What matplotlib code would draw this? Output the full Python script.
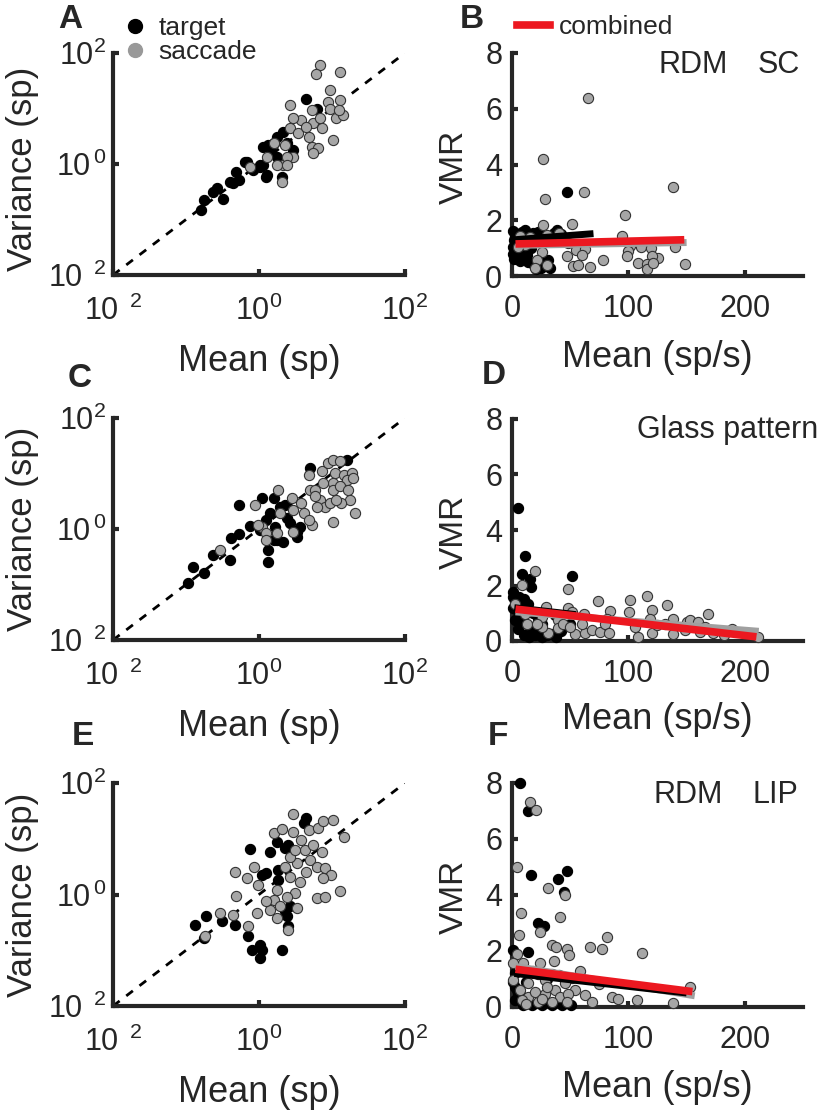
import numpy as np
import matplotlib
matplotlib.use('Agg')
import matplotlib.pyplot as plt
from matplotlib.lines import Line2D

plt.rcParams['font.family'] = ['Liberation Sans', 'DejaVu Sans']
plt.rcParams['mathtext.fontset'] = 'custom'
plt.rcParams['mathtext.rm'] = 'Liberation Sans'
plt.rcParams['mathtext.it'] = 'Liberation Sans'
plt.rcParams['mathtext.default'] = 'regular'

INK = '#262626'
GRAY = '#a6a6a6'
RED = '#ec1820'

# ---- left column: log10(mean), log10(variance) pairs ----
a_target = [(-0.79, -0.83), (-0.75, -0.65), (-0.63, -0.50), (-0.50, -0.63), (-0.40, -0.32),
            (-0.31, -0.14), (-0.28, -0.29), (-0.19, 0.03), (0.01, -0.05), (0.10, -0.23),
            (0.06, 0.31), (0.17, 0.22), (0.24, 0.49), (0.33, 0.58), (0.38, 0.37),
            (0.31, -0.23), (0.65, 1.18), (0.79, 1.00), (0.24, 0.13), (-0.08, -0.11),
            (-0.35, -0.35), (0.20, 0.37), (0.12, 0.34), (0.01, -0.02), (-0.17, 0.04),
            (-0.58, -0.44), (0.11, -0.20), (0.47, 0.25), (0.05, -0.02)]
a_saccade = [(0.83, 1.78), (1.11, 1.66), (0.78, 1.63), (0.97, 1.33), (1.11, 1.15), (0.95, 1.12),
             (0.42, 1.06), (0.72, 0.97), (0.97, 1.00), (1.06, 0.82), (1.15, 0.88), (0.58, 0.79),
             (0.74, 0.73), (0.86, 0.64), (1.02, 0.43), (0.72, 0.31), (0.81, 0.28), (0.47, 0.13),
             (0.68, 0.49), (0.42, 0.64), (0.47, 0.82), (0.20, 0.37), (0.36, 0.34), (0.11, 0.13),
             (0.33, -0.02), (0.38, 0.13), (0.31, -0.32), (-0.12, -0.05), (0.74, 0.19), (0.84, 0.82),
             (1.09, 0.97), (0.54, 0.55), (0.65, 0.67), (0.24, -0.02), (0.38, -0.02)]

c_target = [(-0.97, -0.98), (-0.90, -0.68), (-0.76, -0.80), (-0.63, -0.47), (-0.40, -0.56),
            (-0.38, -0.17), (-0.27, -0.09), (-0.28, 0.43), (-0.12, 0.06), (0.04, 0.55),
            (0.20, 0.55), (0.13, -0.38), (0.13, -0.59), (0.20, -0.20), (0.24, -0.20),
            (0.36, 0.43), (0.38, 0.19), (0.42, 0.10), (0.52, -0.05), (0.56, 0.04),
            (0.70, 1.10), (1.20, 1.25), (0.01, -0.02), (0.15, 0.28), (0.10, 0.16),
            (0.22, 0.04), (0.33, -0.23), (0.52, -0.14), (0.29, 0.40)]
c_saccade = [(-0.53, -0.38), (-0.05, 0.43), (0.04, 0.04), (0.10, -0.08), (0.26, 0.71), (0.29, 0.28),
             (0.45, 0.55), (0.47, 0.34), (0.58, 0.47), (0.70, 0.71), (0.68, 0.98), (0.86, 1.04),
             (0.95, 1.19), (1.02, 1.25), (1.11, 1.22), (1.04, 1.01), (1.16, 0.98), (1.27, 1.01),
             (1.20, 0.89), (1.02, 0.83), (0.88, 0.83), (0.77, 0.71), (0.84, 0.53), (1.02, 0.71),
             (1.11, 0.77), (1.22, 0.71), (1.25, 0.53), (1.31, 0.28), (1.02, 0.13), (0.72, 0.07),
             (0.90, 0.40), (0.79, 0.40), (0.97, 0.47), (1.13, 0.47), (0.47, -0.05), (0.24, -0.08),
             (0.10, -0.20), (-0.01, 0.07), (0.61, 0.28), (0.77, 0.59), (1.06, 0.53), (0.68, 0.16),
             (1.29, 0.92)]

e_target = [(-0.88, -0.54), (-0.72, -0.39), (-0.76, -0.78), (-0.51, -0.48), (-0.33, -0.54),
            (-0.12, 0.81), (-0.15, -0.74), (-0.09, -0.99), (0.01, -0.90), (0.01, -1.14),
            (0.04, -0.99), (0.31, -0.99), (0.15, 0.77), (0.24, 0.95), (0.36, 0.83),
            (0.10, 0.38), (0.26, 0.44), (0.40, 0.89), (0.65, 1.37), (0.61, 1.28),
            (0.36, -0.30), (0.40, -0.57), (0.42, -0.21), (0.04, 0.35), (0.26, 0.26), (0.38, -0.39)]
e_saccade = [(-0.74, -0.75), (-0.53, -0.33), (-0.35, -0.36), (-0.31, -0.02), (-0.33, 0.41),
             (-0.17, 0.29), (-0.07, 0.49), (-0.02, 0.17), (-0.03, -0.33), (-0.15, -0.57),
             (0.20, 1.10), (0.31, 1.18), (0.47, 1.44), (0.47, 1.13), (0.58, 0.98), (0.68, 1.16),
             (0.81, 1.19), (0.88, 1.31), (1.02, 1.33), (1.16, 1.03), (0.63, 0.80), (0.74, 0.89),
             (0.86, 0.77), (0.70, 0.62), (0.79, 0.50), (0.90, 0.47), (0.99, 0.35), (0.88, 0.29),
             (1.11, 0.07), (0.79, -0.07), (0.90, -0.04), (0.52, -0.24), (0.49, 0.02), (0.38, -0.04),
             (0.24, 0.08), (0.20, -0.09), (0.15, -0.27), (0.29, -0.21), (0.24, -0.42), (0.40, -0.63),
             (0.42, 0.32), (0.52, 0.56), (0.56, 0.23), (0.65, 0.41), (0.36, 0.50), (0.42, 0.68),
             (0.49, 0.80), (0.10, -0.12)]

# ---- right column: mean rate (sp/s), VMR pairs ----
b_target = [(47, 3.02), (2.6, 1.41), (8.3, 1.59), (0.5, 1.05), (4, 0.70), (14, 0.52), (19.8, 0.34),
            (31.2, 0.58), (38.4, 1.65), (22.6, 1.59), (11.2, 1.65), (1.5, 1.30), (6.9, 0.81),
            (3, 0.90), (10, 1.20), (16, 1.00), (25, 1.40), (1, 1.60), (5, 1.50), (8, 1.30),
            (12, 1.45), (18, 1.55), (6, 1.00), (9, 0.90), (13, 0.75), (17, 0.45), (21, 0.25),
            (25, 0.30), (28, 0.50), (33, 0.30), (36, 1.55), (42, 1.50), (0.5, 0.80), (2, 0.60),
            (7, 0.55)]
b_saccade = [(65.6, 6.38), (26.9, 4.20), (28.4, 2.77), (61.9, 3.00), (138.6, 3.20), (97.1, 2.20),
             (26.9, 1.83), (51.3, 1.87), (15.5, 1.41), (29.8, 1.47), (40.4, 1.53), (94.2, 1.45),
             (47.8, 1.17), (54.7, 0.93), (62.7, 0.96), (59.9, 0.75), (47, 0.70), (52.7, 0.36),
             (57, 0.40), (67, 0.31), (78.5, 0.57), (101.4, 1.08), (100, 0.91), (98.5, 0.70),
             (110.8, 1.03), (119.4, 0.99), (125.2, 0.66), (120, 0.70), (108.5, 0.48), (115.7, 0.43),
             (115.7, 0.24), (121.4, 0.48), (140, 1.03), (148.6, 0.43), (25.5, 0.87), (21.2, 0.57),
             (19.8, 0.28), (29.8, 0.40), (11.2, 1.11), (6.9, 1.44), (5.5, 1.03)]

d_target = [(4.9, 4.78), (11.2, 3.07), (51.3, 2.34), (8.9, 2.43), (15.5, 2.25), (16.3, 1.95),
            (0.5, 1.59), (6.9, 1.41), (14, 1.35), (2.6, 0.75), (12.6, 0.27), (22.6, 0.33),
            (34.1, 0.27), (37, 0.93), (49.8, 0.63), (4, 1.11), (22.6, 0.81), (1, 1.75),
            (8, 0.60), (18, 0.50), (1, 1.20), (3, 1.45), (6, 1.60), (10, 1.50), (13, 1.20),
            (8, 0.90), (5, 0.45), (10, 0.20), (15, 0.15), (20, 0.20), (26, 0.15), (30, 0.20),
            (38, 0.15), (42, 0.35), (18, 1.00), (26, 0.60)]
d_saccade = [(19.8, 2.52), (8.9, 2.01), (48.4, 1.88), (2.6, 1.35), (28.9, 1.23), (48.4, 1.20),
             (51.3, 1.05), (11.2, 0.99), (25.5, 0.87), (39.8, 0.75), (62.2, 0.96), (74.2, 1.45),
             (84.2, 1.08), (81.3, 0.81), (101.4, 1.47), (100.5, 1.05), (115.7, 1.61), (120.6, 1.13),
             (132.9, 1.29), (138.6, 0.81), (118.6, 0.81), (105.7, 0.51), (108.5, 0.15), (120, 0.29),
             (124.3, 0.57), (131.5, 0.63), (138.6, 0.24), (150, 0.69), (153, 0.75), (148.6, 0.41),
             (159.5, 0.69), (165.8, 0.51), (168.1, 0.96), (161.5, 0.33), (173, 0.29), (182.4, 0.20),
             (188.7, 0.45), (211, 0.15), (13.2, 0.63), (31.2, 0.29), (39.2, 0.48), (44.1, 0.63),
             (54.1, 0.24), (62.7, 0.29), (68.5, 0.39), (75.6, 0.33), (79.9, 0.63), (83.3, 0.29),
             (59.9, 0.63), (49.8, 0.51), (25.5, 0.51), (21.2, 0.63)]

f_target = [(6.9, 8.0), (14, 6.99), (16.3, 4.72), (39.8, 4.56), (47, 4.84), (45, 4.12), (22.6, 3.01),
            (27.8, 2.89), (0.5, 2.03), (14, 1.97), (2.6, 0.72), (5.5, 0.48), (2.6, 0.24), (9.8, 0.06),
            (16.9, 0.06), (25.5, 0.06), (34.1, 0.06), (42.7, 0.06), (51, 0.06), (3, 1.20),
            (12, 0.90), (30, 1.00), (1, 0.90), (4, 0.60), (8, 0.40)]
f_saccade = [(15.5, 7.31), (20.6, 7.05), (4, 4.99), (30.7, 4.24), (45.5, 4.0), (41.3, 3.23),
             (7.7, 3.35), (24, 2.69), (6, 2.57), (81.3, 2.51), (67, 2.15), (77.6, 2.06),
             (111.4, 1.94), (34.1, 2.21), (37.5, 2.15), (47, 2.06), (49, 1.85), (4, 1.91),
             (9.8, 1.58), (24, 1.58), (36.4, 1.65), (1.2, 1.58), (58.4, 1.29), (22.6, 1.19),
             (34.1, 1.19), (40.4, 1.14), (51.3, 1.02), (74.8, 0.81), (1.2, 0.96), (14, 0.84),
             (28.4, 0.96), (45.5, 0.84), (54.1, 0.60), (62.7, 0.42), (68.5, 0.18), (85.6, 0.36),
             (91.4, 0.30), (107.1, 0.24), (138.6, 0.14), (152.9, 0.72), (14, 0.36), (19.8, 0.54),
             (28.4, 0.48), (37, 0.60), (41.3, 0.36), (48.4, 0.48), (8.3, 0.24), (22.6, 0.18),
             (34.1, 0.18), (47, 0.18), (6.9, 0.60), (18, 1.30), (30, 0.70), (12, 0.10), (26, 0.30)]

# regression lines: (x ends, y ends)
b_fits = {'saccade': ([5, 150], [1.10, 1.20]), 'target': ([2, 70], [1.30, 1.52]),
          'combined': ([3, 148], [1.15, 1.30])}
d_fits = {'saccade': ([3, 212], [1.05, 0.35]), 'target': ([2, 55], [1.20, 0.95]),
          'combined': ([3, 210], [1.15, 0.15])}
f_fits = {'saccade': ([3, 157], [1.45, 0.40]), 'target': ([2, 150], [1.20, 0.50]),
          'combined': ([3, 155], [1.35, 0.55])}

log_ticks = [1e-2, 1e0, 1e2]
log_xlabels = [r'$10^{\ \;2}$', r'$10^{0}$', r'$10^{2}$']
log_ylabels = [r'$10^{\ \;2}$', r'$10^{\,0}$', r'$10^{2}$']


def base_style(ax):
    for side in ['top', 'right']:
        ax.spines[side].set_visible(False)
    for side in ['left', 'bottom']:
        ax.spines[side].set_linewidth(3)
        ax.spines[side].set_color(INK)
    ax.tick_params(direction='in', length=4, width=3, color=INK, labelcolor=INK, labelsize=22)


def scatter_pairs(ax, pairs, color, log=False):
    x = np.array([p[0] for p in pairs])
    y = np.array([p[1] for p in pairs])
    if log:
        x, y = 10 ** x, 10 ** y
    edge = 'black' if color == 'black' else '#333333'
    ax.scatter(x, y, s=54, c=color, edgecolors=edge, linewidths=0.8, clip_on=False, zorder=3)


def log_panel(ax, target, saccade, ylab_y):
    base_style(ax)
    ax.set_xscale('log')
    ax.set_yscale('log')
    ax.set_xlim(1e-2, 1e2)
    ax.set_ylim(1e-2, 1e2)
    ax.plot([1e-2, 1e2], [1e-2, 1e2], ls=(0, (3, 3)), color='black', lw=2, zorder=2)
    scatter_pairs(ax, target, 'black', log=True)
    scatter_pairs(ax, saccade, GRAY, log=True)
    ax.set_xticks(log_ticks)
    ax.set_xticklabels(log_xlabels)
    ax.set_yticks(log_ticks)
    ax.set_yticklabels(log_ylabels)
    ax.minorticks_off()
    ax.tick_params(axis='x', pad=15)
    ax.tick_params(axis='y', pad=5)
    ax.set_xlabel('Mean (sp)', fontsize=26, color=INK)
    ax.set_ylabel('Variance (sp)', fontsize=25, color=INK)
    ax.xaxis.set_label_coords(0.5, -0.31)
    ax.yaxis.set_label_coords(-0.253, ylab_y)


def vmr_panel(ax, target, saccade, fits, xlab_y):
    base_style(ax)
    ax.set_xlim(0, 250)
    ax.set_ylim(0, 8)
    ax.set_xticks([0, 100, 200])
    ax.set_yticks([0, 2, 4, 6, 8])
    scatter_pairs(ax, target, 'black')
    scatter_pairs(ax, saccade, GRAY)
    ax.plot(*fits['saccade'], color='#a0a0a0', lw=5, solid_capstyle='butt', zorder=4)
    ax.plot(*fits['target'], color='black', lw=5, solid_capstyle='butt', zorder=4)
    ax.plot(*fits['combined'], color=RED, lw=5.5, solid_capstyle='butt', zorder=5)
    ax.tick_params(axis='x', pad=13)
    ax.tick_params(axis='y', pad=7)
    ax.set_xlabel('Mean (sp/s)', fontsize=26, color=INK)
    ax.set_ylabel('VMR', fontsize=24, color=INK)
    ax.xaxis.set_label_coords(0.5, xlab_y)
    ax.yaxis.set_label_coords(-0.144, 0.49)


W, H = 826, 1113
fig = plt.figure(figsize=(W / 100, H / 100), dpi=100)


def add_axes(l, t, r, b):
    return fig.add_axes([l / W, 1 - b / H, (r - l) / W, (b - t) / H])


axA = add_axes(113, 53, 405, 275)
axB = add_axes(512, 53, 803, 276)
axC = add_axes(113, 418, 405, 640)
axD = add_axes(512, 419, 803, 641)
axE = add_axes(113, 783, 405, 1006)
axF = add_axes(512, 783, 803, 1007)

log_panel(axA, a_target, a_saccade, 0.48)
log_panel(axC, c_target, c_saccade, 0.5)
log_panel(axE, e_target, e_saccade, 0.5)
vmr_panel(axB, b_target, b_saccade, b_fits, -0.285)
vmr_panel(axD, d_target, d_saccade, d_fits, -0.275)
vmr_panel(axF, f_target, f_saccade, f_fits, -0.283)

axB.text(0.502, 0.91, 'RDM', transform=axB.transAxes, fontsize=22, color=INK, va='baseline')
axB.text(0.845, 0.91, 'SC', transform=axB.transAxes, fontsize=22, color=INK, va='baseline')
axD.text(0.43, 0.914, 'Glass pattern', transform=axD.transAxes, fontsize=22, color=INK, va='baseline')
axF.text(0.485, 0.911, 'RDM', transform=axF.transAxes, fontsize=22, color=INK, va='baseline')
axF.text(0.828, 0.911, 'LIP', transform=axF.transAxes, fontsize=22, color=INK, va='baseline')

# legends
dots = [Line2D([], [], marker='o', ls='', color='black', ms=10),
        Line2D([], [], marker='o', ls='', color='#999999', ms=10)]
fig.legend(dots, ['target', 'saccade'], loc='center left', bbox_to_anchor=(124 / W, 1 - 40 / H),
           frameon=False, fontsize=19, handlelength=0.8, handletextpad=0.5, labelspacing=0.0,
           borderpad=0, borderaxespad=0, labelcolor=INK)
fig.legend([Line2D([], [], color=RED, lw=5.5)], ['combined'], loc='center left',
           bbox_to_anchor=(517 / W, 1 - 27 / H), frameon=False, fontsize=19,
           handlelength=1.25, handletextpad=0.34, borderpad=0, borderaxespad=0, labelcolor=INK)

# panel letters
for letter, x, y in [('A', 58, 28), ('B', 460, 28), ('C', 68, 387), ('D', 482, 384),
                     ('E', 72, 745), ('F', 488, 745)]:
    fig.text(x / W, 1 - y / H, letter, fontsize=24, fontweight='bold', color=INK, va='baseline')

fig.savefig('out.png', dpi=100)
